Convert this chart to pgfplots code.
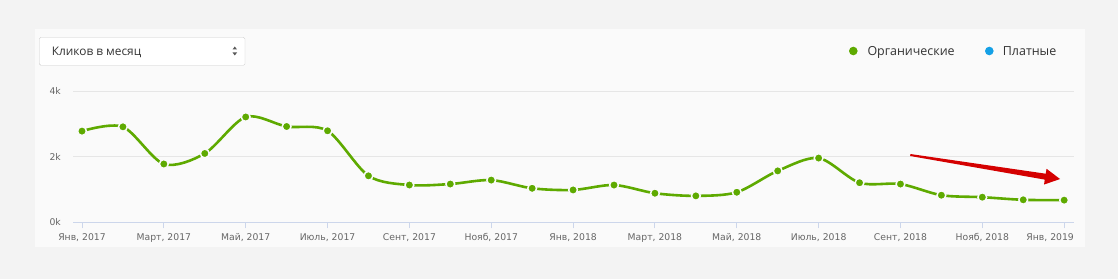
\documentclass[border=0pt]{standalone}
\usepackage{fontspec}
\setmainfont{Open Sans}
\newfontfamily\dejavu{DejaVu Sans}
\usepackage{pgfplots}
\pgfplotsset{compat=1.18}
\usetikzlibrary{calc}
\definecolor{outerbg}{HTML}{F3F3F3}
\definecolor{panelbg}{HTML}{FAFAFA}
\definecolor{orggreen}{RGB}{94,170,0}
\definecolor{paidblue}{RGB}{20,160,230}
\definecolor{arrowred}{RGB}{212,0,0}
\definecolor{gridgray}{HTML}{E6E6E6}
\definecolor{axisblue}{HTML}{CCD6EB}
\definecolor{ticktext}{HTML}{666666}
\definecolor{darktext}{HTML}{333333}
\begin{document}
\begin{tikzpicture}
% backgrounds
\fill[outerbg] (0bp,0bp) rectangle (1118bp,279bp);
\fill[panelbg] (35bp,32bp) rectangle (1085bp,250bp);
% dropdown
\draw[fill=white,draw=black!20,rounded corners=1.5bp] (39.3bp,213.7bp) rectangle (245bp,241.7bp);
\node[anchor=base west,inner sep=0pt,text=darktext,font=\fontsize{11.9}{13}\selectfont] at (51.7bp,223.8bp) {Кликов в месяц};
\fill[black!65] (232.5bp,229.5bp) -- (237bp,229.5bp) -- (234.75bp,232.5bp) -- cycle;
\fill[black!65] (232.5bp,226.5bp) -- (237bp,226.5bp) -- (234.75bp,223.5bp) -- cycle;
% legend
\fill[orggreen] (853.3bp,228bp) circle (4.3bp);
\node[anchor=base west,inner sep=0pt,text=darktext,font=\fontsize{12.5}{14}\selectfont] at (867.3bp,223.6bp) {Органические};
\fill[paidblue] (989.3bp,228bp) circle (4.3bp);
\node[anchor=base west,inner sep=0pt,text=darktext,font=\fontsize{12.5}{14}\selectfont] at (1002.7bp,223.6bp) {Платные};
\begin{axis}[
  at={(73bp,56.5bp)}, anchor=south west,
  scale only axis, width=1001bp, height=131.5bp,
  xmin=-0.22, xmax=24.24, ymin=0, ymax=4000,
  axis x line*=bottom, axis y line*=left,
  x axis line style={draw=axisblue,line width=1bp,-},
  y axis line style={draw=none},
  xtick={0,2,...,22},
  xticklabels={{Янв, 2017},{Март, 2017},{Май, 2017},{Июль, 2017},{Сент, 2017},{Нояб, 2017},{Янв, 2018},{Март, 2018},{Май, 2018},{Июль, 2018},{Сент, 2018},{Нояб, 2018}},
  extra x ticks={24},
  extra x tick labels={Янв{,} 2019},
  extra x tick style={xticklabel style={xshift=-14bp}},
  tick align=outside, major tick length=6bp,
  xtick style={draw=axisblue,line width=1bp},
  ytick={0,2000,4000}, yticklabels={0k,2k,4k},
  ytick style={draw=none},
  scaled y ticks=false,
  ymajorgrids, grid style={draw=gridgray,line width=1bp},
  xticklabel style={font=\dejavu\fontsize{9.3}{10}\selectfont,text=ticktext,anchor=base,inner sep=0pt,yshift=-12.5bp},
  yticklabel style={font=\dejavu\fontsize{9.3}{10}\selectfont,text=ticktext,anchor=east,inner sep=0pt,xshift=-6bp},
  clip=false,
]
\addplot[orggreen, line width=2.6bp, smooth, tension=0.5,
  mark=*, mark size=4.4bp, mark options={fill=orggreen,draw=panelbg,line width=1.5bp}]
  coordinates {
  (0,2780) (1,2910) (2,1780) (3,2100) (4,3210) (5,2920) (6,2790) (7,1420)
  (8,1140) (9,1170) (10,1290) (11,1040) (12,990) (13,1140) (14,890) (15,810)
  (16,920) (17,1570) (18,1960) (19,1210) (20,1170) (21,830) (22,770) (23,690) (24,680)
  };
% annotation arrow
\coordinate (A) at (axis cs:20.24,2053);
\coordinate (T) at (axis cs:23.90,1322);
\coordinate (H) at ($(T)!15bp!(A)$);
\fill[arrowred] ($(A)!1bp!90:(T)$) -- ($(H)!3bp!90:(T)$) -- ($(H)!8bp!90:(T)$) -- (T)
  -- ($(H)!8bp!-90:(T)$) -- ($(H)!3bp!-90:(T)$) -- ($(A)!1bp!-90:(T)$) -- cycle;
\end{axis}
\end{tikzpicture}
\end{document}
